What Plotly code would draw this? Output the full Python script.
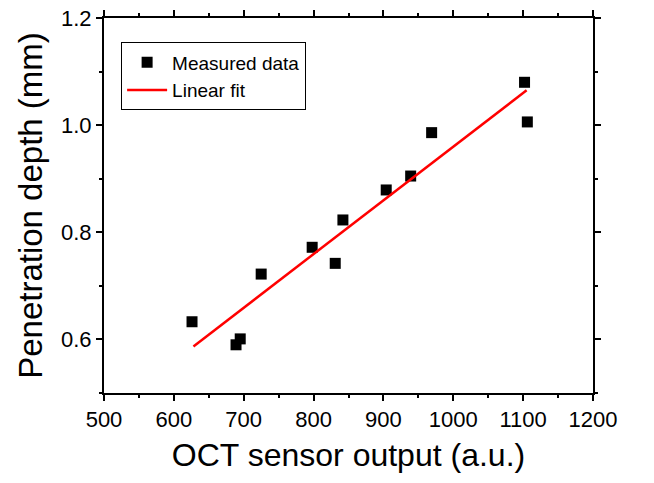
import plotly.graph_objects as go

oct_output = [626, 689, 695, 725, 798, 831, 842, 904, 939, 969, 1102, 1106]
depth_mm = [0.633, 0.590, 0.601, 0.722, 0.772, 0.742, 0.823, 0.879, 0.905, 0.986, 1.080, 1.006]

# Linear fit endpoints
fit_x = [628, 1105]
fit_y = [0.587, 1.065]

x_ticks = [500, 600, 700, 800, 900, 1000, 1100, 1200]
y_ticks = [0.6, 0.8, 1.0, 1.2]

FONT = "Liberation Sans, Arial, sans-serif"

fig = go.Figure()
fig.add_trace(go.Scatter(
    x=oct_output, y=depth_mm, mode="markers", name="Measured data",
    marker=dict(symbol="square", size=11, color="black"),
))
fig.add_trace(go.Scatter(
    x=fit_x, y=fit_y, mode="lines", name="Linear fit",
    line=dict(color="red", width=2.5),
))

axis_common = dict(
    showline=True, linecolor="black", linewidth=2, mirror="allticks",
    ticks="outside", ticklen=6, tickwidth=2, tickcolor="black",
    showgrid=False, zeroline=False, ticklabeloverflow="allow",
    tickfont=dict(family=FONT, size=22, color="black"),
)

fig.update_xaxes(
    range=[500, 1200], tickvals=x_ticks,
    minor=dict(dtick=50, ticks="outside", ticklen=3, tickwidth=2, tickcolor="black"),
    title=dict(text="OCT sensor output (a.u.)", font=dict(family=FONT, size=32, color="black"), standoff=12),
    **axis_common,
)
fig.update_yaxes(
    range=[0.5, 1.2], tickvals=y_ticks, tickformat=".1f",
    minor=dict(dtick=0.1, tick0=0.5, ticks="outside", ticklen=3, tickwidth=2, tickcolor="black"),
    title=dict(text="Penetration depth (mm)", font=dict(family=FONT, size=33, color="black"), standoff=8),
    **axis_common,
)

fig.update_layout(
    width=654, height=483,
    margin=dict(l=104, r=61, t=18, b=90, autoexpand=False),
    plot_bgcolor="white", paper_bgcolor="white",
    showlegend=True,
    legend=dict(
        x=0.035, y=0.935, xanchor="left", yanchor="top",
        bgcolor="white", bordercolor="black", borderwidth=1,
        font=dict(family=FONT, size=19, color="black"),
        tracegroupgap=0, itemwidth=40,
    ),
)

fig.write_html(
    "out.html",
    config={"displayModeBar": False},
    post_script="document.body.style.margin='0';",
)
